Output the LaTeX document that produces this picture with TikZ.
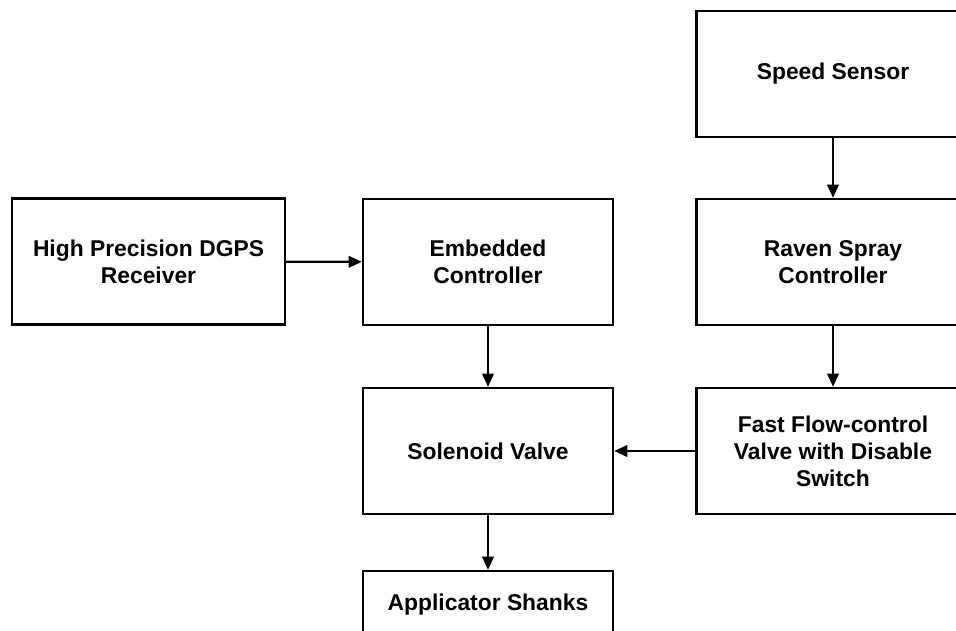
\documentclass[tikz,border=0pt]{standalone}
\usepackage{fontspec}
\setmainfont{Liberation Sans}
\usetikzlibrary{arrows.meta, positioning}

\begin{document}
\begin{tikzpicture}[x=0.02cm, y=-0.02cm,
    block/.style={draw, line width=1.3pt, minimum width=250*0.02cm, minimum height=126*0.02cm,
        align=center, font=\bfseries\fontsize{13}{15.3}\selectfont, inner sep=0pt},
    wide/.style={block, minimum width=273*0.02cm},
    flow/.style={line width=1.3pt, -{Triangle[length=7.5pt, width=6.5pt]}}]
    \useasboundingbox (0,0) rectangle (956,630);
    \clip (0,0) rectangle (956,630);

    % left column
    \node[wide] (dgps) at (148.5,261.5) {High Precision DGPS\\Receiver};

    % middle column
    \node[block] (embedded) at (488,262) {Embedded\\Controller};
    \node[block] (solenoid) at (488,451) {Solenoid Valve};
    \node[block, minimum height=68*0.02cm] (shanks) at (488,605) {Applicator Shanks};

    % right column
    \node[wide] (speed) at (833,74) {Speed Sensor};
    \node[wide] (raven) at (833,262) {Raven Spray\\Controller};
    \node[wide] (fastflow) at (833,451) {Fast Flow-control\\Valve with Disable\\Switch};

    \draw[flow] (dgps) -- (embedded);
    \draw[flow] (embedded) -- (solenoid);
    \draw[flow] (solenoid) -- (shanks);
    \draw[flow] (speed) -- (raven);
    \draw[flow] (raven) -- (fastflow);
    \draw[flow] (fastflow) -- (solenoid);
\end{tikzpicture}
\end{document}
